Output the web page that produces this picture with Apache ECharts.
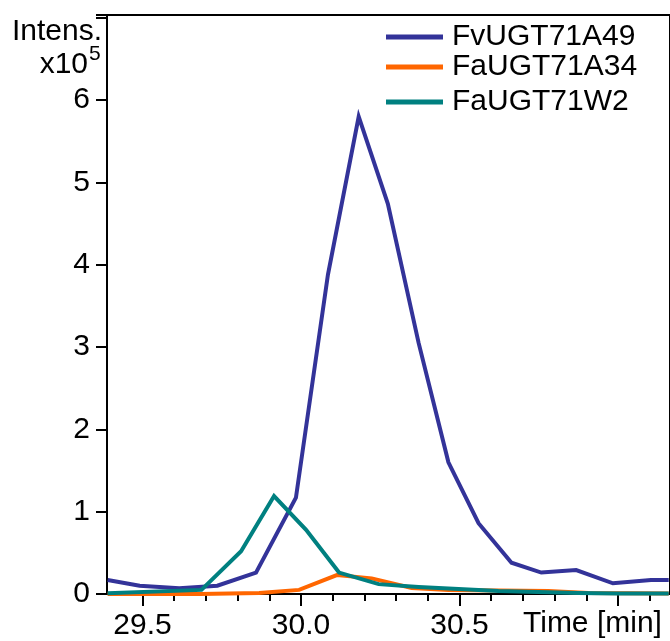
<!DOCTYPE html>
<html>
<head>
<meta charset="utf-8">
<script src="https://cdn.jsdelivr.net/npm/echarts@6/dist/echarts.min.js"></script>
<style>
html,body{margin:0;padding:0;background:#fff;}
#chart{width:670px;height:641px;}
</style>
</head>
<body>
<div id="chart"></div>
<script>
// ---- data ----
var seriesNames = ['FvUGT71A49', 'FaUGT71A34', 'FaUGT71W2'];

var timeBlue = [29.390, 29.491, 29.616, 29.736, 29.858, 29.984, 30.085, 30.182, 30.274, 30.371, 30.465, 30.560, 30.664, 30.758, 30.868, 30.984, 31.104, 31.160];
var valBlue  = [0.17, 0.10, 0.07, 0.10, 0.26, 1.17, 3.88, 5.80, 4.74, 3.05, 1.60, 0.86, 0.38, 0.26, 0.29, 0.13, 0.17, 0.17];

var timeOrange = [29.390, 29.680, 29.868, 29.994, 30.113, 30.223, 30.349, 30.465, 30.623, 30.780, 30.906, 31.160];
var valOrange  = [0.00, 0.00, 0.012, 0.05, 0.23, 0.19, 0.073, 0.05, 0.043, 0.036, 0.012, 0.006];

var timeTeal = [29.390, 29.686, 29.811, 29.915, 30.016, 30.120, 30.245, 30.371, 30.497, 30.623, 30.748, 30.874, 31.000, 31.160];
var valTeal  = [0.01, 0.05, 0.52, 1.19, 0.78, 0.26, 0.12, 0.085, 0.06, 0.036, 0.024, 0.012, 0.006, 0.006];

var xMajorTicks = [29.5, 30.0, 30.5, 31.0];
var xLabelValues = [29.5, 30.0, 30.5];
var xMinorTicks = [29.6, 29.7, 29.8, 29.9, 30.1, 30.2, 30.3, 30.4, 30.6, 30.7, 30.8, 30.9, 31.1];
var yLabels = ['0', '1', '2', '3', '4', '5', '6'];

// ---- chart ----
function pairs(t, v) { return t.map(function (x, i) { return [x, v[i]]; }); }

var FONT = 'Liberation Sans, Arial, sans-serif';
var colors = ['#333399', '#FF6600', '#008080'];
var xMin = 29.388, xMax = 31.164;

var chart = echarts.init(document.getElementById('chart'), null, {renderer: 'canvas'});

function xAxisBase(extra) {
  var a = {
    type: 'value', min: xMin, max: xMax, position: 'bottom',
    axisLine: {show: true, onZero: false, lineStyle: {color: '#000', width: 2}},
    splitLine: {show: false}
  };
  for (var k in extra) a[k] = extra[k];
  return a;
}

var option = {
  animation: false,
  backgroundColor: '#fff',
  grid: {left: 107, top: 15, right: -3, bottom: 47, show: true, borderColor: '#000', borderWidth: 2, backgroundColor: 'transparent'},
  xAxis: [
    xAxisBase({
      axisTick: {show: true, length: 12, lineStyle: {color: '#000', width: 2}, customValues: xMajorTicks},
      axisLabel: {show: true, customValues: xLabelValues, margin: 17, color: '#000', fontSize: 30, fontFamily: FONT,
        formatter: function (v) { return v.toFixed(1); }}
    }),
    xAxisBase({
      axisTick: {show: true, length: 7, lineStyle: {color: '#000', width: 2}, customValues: xMinorTicks},
      axisLabel: {show: false}
    })
  ],
  yAxis: {
    type: 'value', min: 0, max: 7.033, interval: 1,
    axisLine: {show: true, lineStyle: {color: '#000', width: 2}},
    axisTick: {show: true, length: 11, lineStyle: {color: '#000', width: 2}},
    splitLine: {show: false},
    axisLabel: {margin: 17, color: '#000', fontSize: 30, fontFamily: FONT,
      formatter: function (v) { return yLabels[v] !== undefined ? yLabels[v] : ''; }}
  },
  legend: [0, 1, 2].map(function (i) {
    var tops = [22, 52, 87];
    return {
      data: [seriesNames[i]], left: 386, top: tops[i], padding: 0,
      icon: 'rect', itemWidth: 57, itemHeight: 5, selectedMode: false,
      textStyle: {color: '#000', fontSize: 30, fontFamily: FONT, padding: [8, 0, 0, 4]}
    };
  }),
  series: [
    {name: seriesNames[0], type: 'line', data: pairs(timeBlue, valBlue)},
    {name: seriesNames[1], type: 'line', data: pairs(timeOrange, valOrange)},
    {name: seriesNames[2], type: 'line', data: pairs(timeTeal, valTeal)}
  ].map(function (s, i) {
    s.showSymbol = false; s.symbol = 'none'; s.color = colors[i];
    s.lineStyle = {color: colors[i], width: 4, join: 'miter'};
    s.itemStyle = {color: colors[i]};
    s.clip = true;
    return s;
  }),
  graphic: [
    {type: 'text', x: 102, y: 32, style: {text: 'Intens.', fill: '#000', font: '30px ' + FONT, align: 'right', verticalAlign: 'middle'}},
    {type: 'text', x: 88, y: 65, style: {text: 'x10', fill: '#000', font: '30px ' + FONT, align: 'right', verticalAlign: 'middle'}},
    {type: 'text', x: 89, y: 54, style: {text: '5', fill: '#000', font: '21px ' + FONT, align: 'left', verticalAlign: 'middle'}},
    {type: 'text', x: 523, y: 624, style: {text: 'Time [min]', fill: '#000', font: '30px ' + FONT, align: 'left', verticalAlign: 'middle'}}
  ]
};
chart.setOption(option);
</script>
</body>
</html>
